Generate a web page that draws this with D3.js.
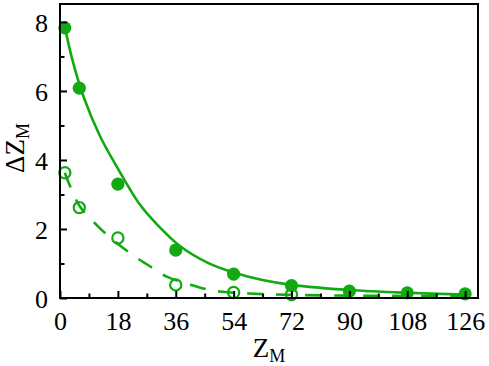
<!DOCTYPE html>
<html>
<head>
<meta charset="utf-8">
<script src="https://cdn.jsdelivr.net/npm/d3@7"></script>
<style>
  body { margin: 0; background: #fff; }
  svg text { font-family: "Liberation Serif", "Times New Roman", serif !important; }
</style>
</head>
<body>
<script>
// measured points (filled = upper set, open = lower set)
var filledX = [1.5, 6, 18, 36, 54, 72, 90, 108, 126];
var filledY = [7.83, 6.08, 3.3, 1.39, 0.69, 0.36, 0.2, 0.15, 0.12];
var openX = [1.5, 6, 18, 36, 54, 72];
var openY = [3.63, 2.62, 1.74, 0.38, 0.16, 0.1];

// fitted curves
var solidX = [1.5, 4, 7.3, 12.5, 17.7, 24.9, 30, 37.4, 46, 54, 63, 72, 90, 108, 126];
var solidY = [7.85, 6.85, 5.84, 4.68, 3.8, 2.7, 2.15, 1.5, 1.02, 0.74, 0.52, 0.38, 0.23, 0.15, 0.1];
var dashX = [1.5, 3.1, 6.2, 11.9, 17.1, 20.8, 24.9, 29, 33.2, 38.9, 41.5, 46.7, 50.4, 58.7, 72, 90, 108, 126];
var dashY = [3.63, 3.25, 2.65, 2.07, 1.63, 1.37, 1.1, 0.86, 0.62, 0.43, 0.36, 0.23, 0.18, 0.13, 0.09, 0.07, 0.06, 0.06];

var xTicks = [0, 18, 36, 54, 72, 90, 108, 126];
var xMinor = [9, 27, 45, 63, 81, 99, 117];
var yTicks = [0, 2, 4, 6, 8];
var yMinor = [1, 3, 5, 7];

var w = 489, h = 366;
var margin = {top: 4, right: 11, bottom: 68, left: 60};
var green = "#11aa11";

var svg = d3.select("body").append("svg")
    .attr("width", w)
    .attr("height", h);

var x = d3.scaleLinear().domain([0, 130]).range([margin.left, w - margin.right]);
var y = d3.scaleLinear().domain([0, 8.52]).range([h - margin.bottom, margin.top]);

var line = d3.line()
    .x(function (d) { return x(d[0]); })
    .y(function (d) { return y(d[1]); })
    .curve(d3.curveCatmullRom.alpha(0.5));

// curves
svg.append("path")
    .datum(d3.zip(solidX, solidY))
    .attr("d", line)
    .attr("fill", "none")
    .attr("stroke", green)
    .attr("stroke-width", 2.6);

svg.append("path")
    .datum(d3.zip(dashX, dashY))
    .attr("d", line)
    .attr("fill", "none")
    .attr("stroke", green)
    .attr("stroke-width", 2.6)
    .attr("stroke-dasharray", "16,13");

// open circles
svg.selectAll("circle.open")
    .data(d3.zip(openX, openY))
    .enter().append("circle")
    .attr("class", "open")
    .attr("cx", function (d) { return x(d[0]); })
    .attr("cy", function (d) { return y(d[1]); })
    .attr("r", 5.6)
    .attr("fill", "none")
    .attr("stroke", green)
    .attr("stroke-width", 2.2);

// filled circles
svg.selectAll("circle.filled")
    .data(d3.zip(filledX, filledY))
    .enter().append("circle")
    .attr("class", "filled")
    .attr("cx", function (d) { return x(d[0]); })
    .attr("cy", function (d) { return y(d[1]); })
    .attr("r", 6.6)
    .attr("fill", green);

// axes
var xAxis = svg.append("g")
    .attr("transform", "translate(0," + (h - margin.bottom) + ")")
    .call(d3.axisBottom(x).tickValues(xTicks).tickSizeInner(-7).tickSizeOuter(0).tickPadding(14));
var xAxisMinor = svg.append("g")
    .attr("transform", "translate(0," + (h - margin.bottom) + ")")
    .call(d3.axisBottom(x).tickValues(xMinor).tickSizeInner(-4.5).tickSizeOuter(0).tickFormat(""));
var yAxis = svg.append("g")
    .attr("transform", "translate(" + margin.left + ",0)")
    .call(d3.axisLeft(y).tickValues(yTicks).tickSizeInner(-7).tickSizeOuter(0).tickPadding(12));
var yAxisMinor = svg.append("g")
    .attr("transform", "translate(" + margin.left + ",0)")
    .call(d3.axisLeft(y).tickValues(yMinor).tickSizeInner(-4.5).tickSizeOuter(0).tickFormat(""));

[xAxis, xAxisMinor, yAxis, yAxisMinor].forEach(function (g) {
    g.attr("font-family", null).attr("font-size", null);
    g.select(".domain").remove();
    g.selectAll("line").attr("stroke", "#000").attr("stroke-width", 2);
    g.selectAll("text")
        .attr("fill", "#000")
        .style("font-size", "26px");
});
yAxis.selectAll("text").attr("dy", "0.35em");
xAxis.selectAll("text").attr("dy", "0.71em");

// frame
svg.append("rect")
    .attr("x", margin.left)
    .attr("y", margin.top)
    .attr("width", w - margin.left - margin.right)
    .attr("height", h - margin.top - margin.bottom)
    .attr("fill", "none")
    .attr("stroke", "#000")
    .attr("stroke-width", 2);

// axis titles
var xt = svg.append("text")
    .attr("x", (margin.left + w - margin.right) / 2)
    .attr("y", 357)
    .attr("text-anchor", "middle")
    .style("font-size", "27px");
xt.append("tspan").text("Z");
xt.append("tspan").attr("dy", 5).style("font-size", "18px").text("M");

var yt = svg.append("text")
    .attr("transform", "translate(24,148) rotate(-90)")
    .attr("text-anchor", "middle")
    .style("font-size", "27px");
yt.append("tspan").text("ΔZ");
yt.append("tspan").attr("dy", 5).style("font-size", "18px").text("M");
</script>
</body>
</html>
